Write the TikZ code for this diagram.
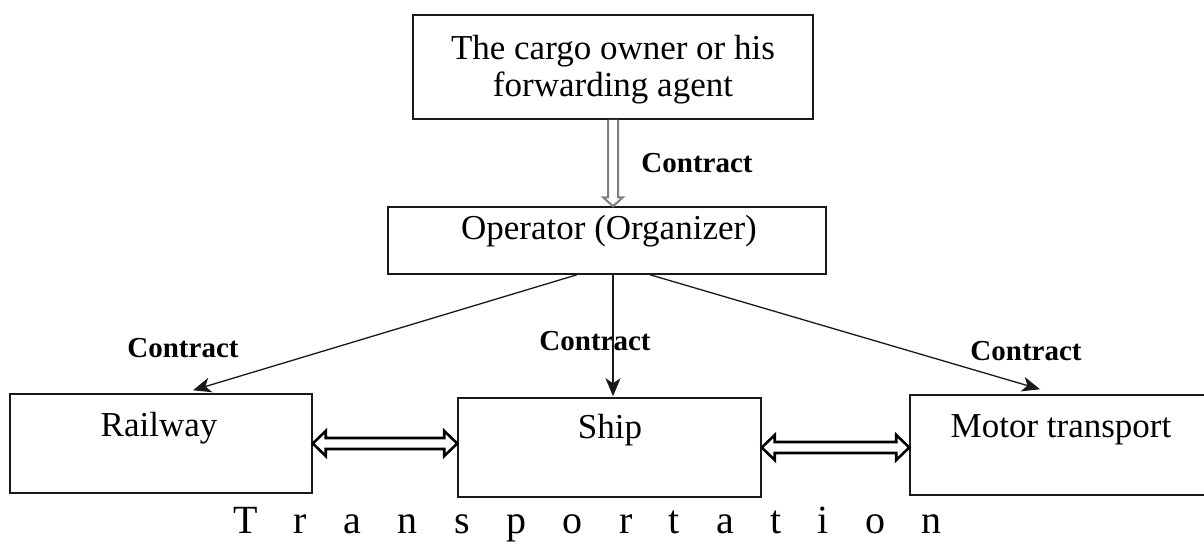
\documentclass[tikz,border=0pt]{standalone}
\usepackage{fontspec}
\setmainfont{Liberation Serif}
\usetikzlibrary{calc,arrows.meta}
\tikzset{
  box/.style={draw=black!90, line width=1.5pt, rectangle, inner sep=0pt},
  boxtext/.style={inner sep=0pt, anchor=base, font=\fontsize{35}{37}\selectfont},
  lab/.style={inner sep=0pt, anchor=base, font=\fontsize{29}{32}\selectfont\bfseries},
  conn/.style={draw=black!90, line width=1.3pt, -{Stealth[length=18pt,width=15pt,inset=5pt]}},
  blockarr/.style={draw=black, line width=2.6pt, fill=white, line join=miter},
  grayarr/.style={draw=black!50, line width=2pt, fill=white, line join=miter},
}
\begin{document}
\begin{tikzpicture}[x=1pt,y=-1pt]
\useasboundingbox (0,0) rectangle (1204,541);
\fill[white] (0,0) rectangle (1204,541);

% boxes
\node[box, minimum width=400pt, minimum height=104pt] (top) at (613,67) {};
\node[box, minimum width=438pt, minimum height=67pt] (op) at (607,240.5) {};
\node[box, minimum width=302pt, minimum height=99pt] (rail) at (161,443.5) {};
\node[box, minimum width=303pt, minimum height=99pt] (ship) at (609.5,447.5) {};
\node[box, minimum width=297pt, minimum height=100pt] (motor) at (1058.5,445) {};

% box texts
\node[inner sep=0pt, align=center, font=\fontsize{35}{37}\selectfont] (topT) at ($(top.center)+(0,2.3)$) {The cargo owner or his\\forwarding agent};
\node[boxtext] (opT) at ($(op.north)+(2,33)$) {Operator (Organizer)};
\node[boxtext] (railT) at ($(rail.north)+(-2,43)$) {Railway};
\node[boxtext] (shipT) at ($(ship.north)+(0.5,41)$) {Ship};
\node[boxtext] (motorT) at ($(motor.north)+(2.5,43)$) {Motor transport};

% contract labels
\node[lab] (c0) at (697,172) {Contract};
\node[lab] (c1) at (183,357) {Contract};
\node[lab] (c2) at (595,350) {Contract};
\node[lab] (c3) at (1026,360) {Contract};

% gray hollow arrow
\draw[grayarr] let \p1=(top.south), \p2=(op.north) in
  (\x1-5pt,\y1) -- (\x1-5pt,\y2+9pt) -- (\x1-10pt,\y2+9pt) -- (\x1,\y2)
  -- (\x1+10pt,\y2+9pt) -- (\x1+5pt,\y2+9pt) -- (\x1+5pt,\y1);

% contract connectors
\draw[conn] ($(op.south)+(-30,0)$) -- ($(rail.north)+(32,-3)$);
\draw[conn] ($(op.south)+(6,0)$) -- ($(ship.north)+(3.5,-1)$);
\draw[conn] ($(op.south)+(43,0)$) -- ($(motor.north)+(-18.5,-5)$);

% block double arrows
\draw[blockarr] let \p1=(rail.east), \p2=(rail.east -| ship.west) in
  (\x1,\y1) -- (\x1+13pt,\y1+12.5pt) -- (\x1+13pt,\y1+5.5pt) -- (\x2-13pt,\y1+5.5pt)
  -- (\x2-13pt,\y1+12.5pt) -- (\x2,\y1) -- (\x2-13pt,\y1-12.5pt) -- (\x2-13pt,\y1-5.5pt)
  -- (\x1+13pt,\y1-5.5pt) -- (\x1+13pt,\y1-12.5pt) -- cycle;
\draw[blockarr] let \p1=(ship.east), \p2=(ship.east -| motor.west) in
  (\x1,\y1) -- (\x1+13pt,\y1+12.5pt) -- (\x1+13pt,\y1+5.5pt) -- (\x2-13pt,\y1+5.5pt)
  -- (\x2-13pt,\y1+12.5pt) -- (\x2,\y1) -- (\x2-13pt,\y1-12.5pt) -- (\x2-13pt,\y1-5.5pt)
  -- (\x1+13pt,\y1-5.5pt) -- (\x1+13pt,\y1-12.5pt) -- cycle;

% bottom caption
\node[inner sep=0pt, anchor=base, font=\fontsize{40}{44}\selectfont] (trans) at (587.5,533)
  {\spaceskip=36.4pt T r a n s p o r t a t i o n};
\end{tikzpicture}
\end{document}
